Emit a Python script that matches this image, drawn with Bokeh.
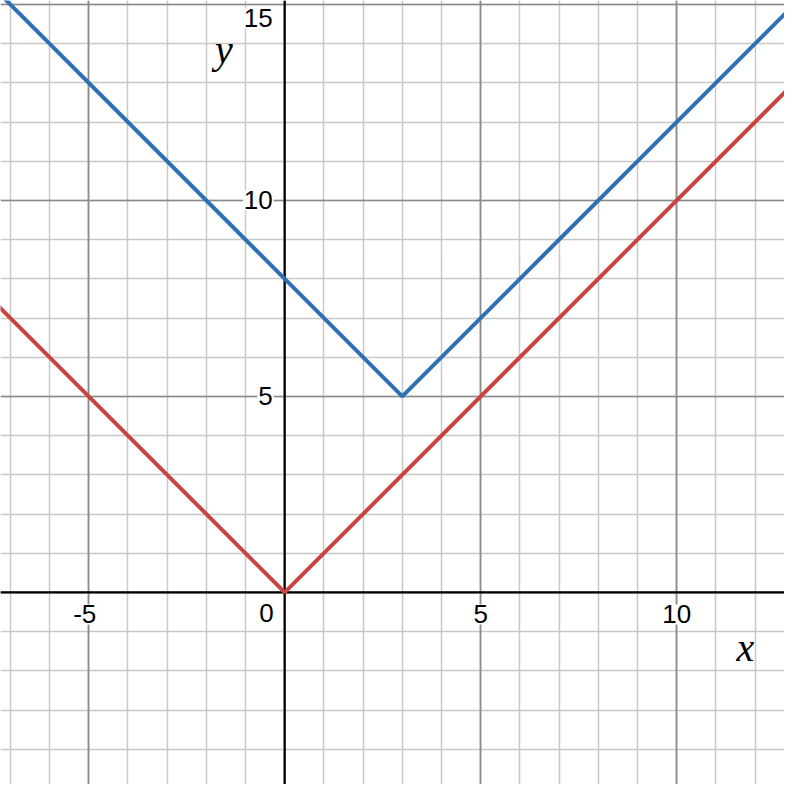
from bokeh.plotting import figure
from bokeh.models import Range1d, Grid, SingleIntervalTicker, Span, ColumnDataSource, Label
from bokeh.embed import file_html
from bokeh.resources import INLINE
from bokeh.core.properties import value

# Data (vertices)
red_x = [-8, 0, 13]
red_y = [8, 0, 13]
blue_x = [-8, 3, 13]
blue_y = [16, 5, 15]

x_tick_vals = [-5, 5, 10]
x_tick_labels = ["-5", "5", "10"]
y_tick_vals = [5, 10, 15]
y_tick_labels = ["5", "10", "15"]
origin_label = "0"

p = figure(width=784, height=784,
           x_range=Range1d(-7.25, 12.75), y_range=Range1d(-4.9, 15.1),
           x_axis_type=None, y_axis_type=None,
           toolbar_location=None, output_backend="svg",
           min_border=0, outline_line_color=None,
           background_fill_color="white", border_fill_color="white")

for dim in (0, 1):
    g = Grid(dimension=dim, ticker=SingleIntervalTicker(interval=1, num_minor_ticks=0),
             grid_line_color="#c8c8c8", grid_line_width=1.5)
    p.add_layout(g)
for dim in (0, 1):
    g = Grid(dimension=dim, ticker=SingleIntervalTicker(interval=5, num_minor_ticks=0),
             grid_line_color="#8a8a8a", grid_line_width=1.7)
    p.add_layout(g)

p.add_layout(Span(location=0, dimension="height", line_color="black", line_width=2.2, level="underlay"))
p.add_layout(Span(location=0, dimension="width", line_color="black", line_width=2.2, level="underlay"))

p.line(red_x, red_y, line_color="#c74440", line_width=4)
p.line(blue_x, blue_y, line_color="#2d70b3", line_width=4)

font = value("Liberation Sans")
xs = ColumnDataSource(dict(x=x_tick_vals, y=[0] * len(x_tick_vals), t=x_tick_labels,
                           dx=[-4 if s.startswith("-") else 0 for s in x_tick_labels]))
p.text(x="x", y="y", text="t", source=xs, x_offset="dx", y_offset=12,
       text_align="center", text_baseline="top", text_font=font,
       text_font_size="26px", text_color="black",
       background_fill_color="white", padding=1)

ys = ColumnDataSource(dict(x=[0] * len(y_tick_vals), y=y_tick_vals, t=y_tick_labels,
                           dy=[14 if v == max(y_tick_vals) else 0 for v in y_tick_vals]))
p.text(x="x", y="y", text="t", source=ys, x_offset=-11, y_offset="dy",
       text_align="right", text_baseline="middle", text_font=font,
       text_font_size="26px", text_color="black",
       background_fill_color="white", padding=1)

p.text(x=[0], y=[0], text=[origin_label], x_offset=-11, y_offset=12,
       text_align="right", text_baseline="top", text_font=font,
       text_font_size="26px", text_color="black")

p.add_layout(Label(x=11.75, y=-1.4, text="x", text_align="center", text_baseline="middle",
                   text_font="Liberation Serif", text_font_style="italic",
                   text_font_size="40px", text_color="black"))
p.add_layout(Label(x=-1.55, y=13.85, text="y", text_align="center", text_baseline="middle",
                   text_font="Liberation Serif", text_font_style="italic",
                   text_font_size="40px", text_color="black"))

open("out.html", "w").write(file_html(p, INLINE))
